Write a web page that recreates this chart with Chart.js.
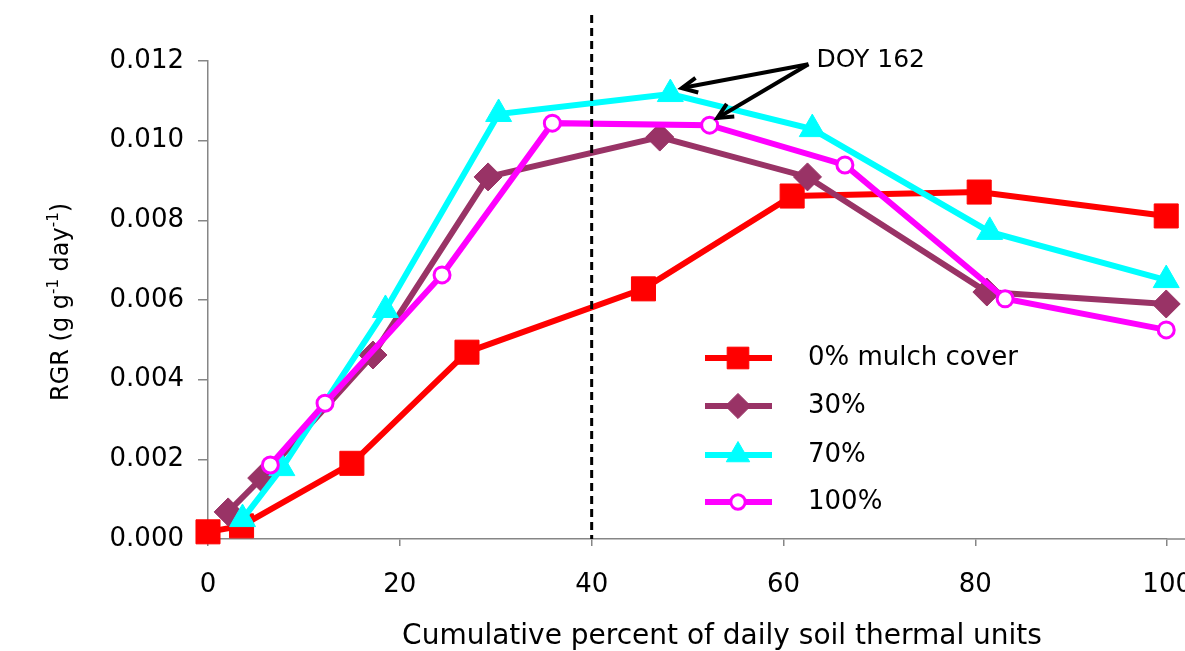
<!DOCTYPE html>
<html>
<head>
<meta charset="utf-8">
<script src="https://cdn.jsdelivr.net/npm/chart.js@4.4.0/dist/chart.umd.min.js"></script>
<style>
  html, body { margin: 0; padding: 0; background: #fff; overflow: hidden; }
  #wrap { position: absolute; left: 0; top: 0; width: 1216px; height: 651px; }
</style>
</head>
<body>
<div id="wrap"><canvas id="rgrChart"></canvas></div>
<script>
// ---- data ----
const seriesLabels = ['0% mulch cover', '30%', '70%', '100%'];

const mulch0x = [0, 3.5, 15.0, 27.0, 45.4, 60.9, 80.4, 99.9];
const mulch0y = [0.00018, 0.00033, 0.0019, 0.00469, 0.00628, 0.00861, 0.00871, 0.00811];

const mulch30x = [2.1, 5.6, 17.2, 29.2, 47.1, 62.5, 81.2, 99.9];
const mulch30y = [0.00068, 0.00153, 0.00462, 0.00909, 0.01009, 0.00909, 0.0062, 0.0059];

const mulch70x = [3.6, 7.7, 18.5, 30.3, 48.2, 63.0, 81.5, 99.9];
const mulch70y = [0.0005, 0.00178, 0.00575, 0.01067, 0.01117, 0.01029, 0.00771, 0.0065];

const mulch100x = [6.5, 12.2, 24.4, 35.9, 52.3, 66.4, 83.1, 99.9];
const mulch100y = [0.00186, 0.00341, 0.00663, 0.01044, 0.01039, 0.00939, 0.00603, 0.00525];

const xTicks = [0, 20, 40, 60, 80, 100];
const yTicks = [0, 0.002, 0.004, 0.006, 0.008, 0.010, 0.012];

const markerLine = 40;                 // dashed vertical line
const noteText = 'DOY 162';
const noteFrom = { x: 62.6, y: 0.01192 };
const noteTips = [{ x: 49.4, y: 0.01132 }, { x: 53.1, y: 0.01057 }];

const FONT = "'DejaVu Sans', Verdana, sans-serif";

function pts(xs, ys) {
    return xs.map((x, i) => ({ x: x, y: ys[i] }));
}

const styles = [
    { color: '#ff0000', point: 'rect', radius: 17, fill: '#ff0000', bw: 1 },
    { color: '#993366', point: 'rectRot', radius: 14, fill: '#993366', bw: 1 },
    { color: '#00ffff', point: 'triangle', radius: 15, fill: '#00ffff', bw: 1 },
    { color: '#ff00ff', point: 'circle', radius: 8, fill: '#ffffff', bw: 3 }
];
const allData = [pts(mulch0x, mulch0y), pts(mulch30x, mulch30y), pts(mulch70x, mulch70y), pts(mulch100x, mulch100y)];

const datasets = allData.map((d, i) => ({
    label: seriesLabels[i],
    data: d,
    borderColor: styles[i].color,
    backgroundColor: styles[i].color,
    borderWidth: 6,
    pointStyle: styles[i].point,
    pointRadius: styles[i].radius,
    pointHoverRadius: styles[i].radius,
    pointBackgroundColor: styles[i].fill,
    pointBorderColor: styles[i].color,
    pointBorderWidth: styles[i].bw,
    tension: 0,
    clip: false,
    order: 4 - i
}));

// axis titles, legend, dashed line and the annotation
const extras = {
    id: 'extras',
    afterDatasetsDraw(chart) {
        const { ctx, chartArea, scales: { x, y } } = chart;
        ctx.save();

        // x axis runs on to the edge
        ctx.strokeStyle = '#868686';
        ctx.lineWidth = 1.5;
        ctx.beginPath();
        ctx.moveTo(chartArea.right, chartArea.bottom);
        ctx.lineTo(chart.width, chartArea.bottom);
        ctx.stroke();

        // dashed line
        const lx = x.getPixelForValue(markerLine);
        ctx.strokeStyle = '#000';
        ctx.lineWidth = 3;
        ctx.setLineDash([8, 5]);
        ctx.beginPath();
        ctx.moveTo(lx, 15);
        ctx.lineTo(lx, chartArea.bottom);
        ctx.stroke();
        ctx.setLineDash([]);

        // annotation arrows
        const fx = x.getPixelForValue(noteFrom.x), fy = y.getPixelForValue(noteFrom.y);
        noteTips.forEach(t => {
            const tx = x.getPixelForValue(t.x), ty = y.getPixelForValue(t.y);
            const a = Math.atan2(ty - fy, tx - fx);
            ctx.lineWidth = 4;
            ctx.beginPath();
            ctx.moveTo(fx, fy);
            ctx.lineTo(tx, ty);
            ctx.stroke();
            ctx.beginPath();
            ctx.moveTo(tx - 17 * Math.cos(a - 0.45), ty - 17 * Math.sin(a - 0.45));
            ctx.lineTo(tx, ty);
            ctx.lineTo(tx - 17 * Math.cos(a + 0.45), ty - 17 * Math.sin(a + 0.45));
            ctx.stroke();
        });
        ctx.fillStyle = '#000';
        ctx.font = '25px ' + FONT;
        ctx.textAlign = 'left';
        ctx.textBaseline = 'middle';
        ctx.fillText(noteText, fx + 8, fy - 4);

        // legend
        const rows = [358, 406, 455, 502];
        rows.forEach((ry, i) => {
            const s = styles[i];
            ctx.strokeStyle = s.color;
            ctx.lineWidth = 6;
            ctx.beginPath();
            ctx.moveTo(705, ry);
            ctx.lineTo(772, ry);
            ctx.stroke();
            ctx.fillStyle = s.fill;
            ctx.strokeStyle = s.color;
            ctx.lineWidth = s.bw;
            Chart.helpers.drawPoint(ctx, { pointStyle: s.point, radius: s.radius * 0.9, rotation: 0, borderWidth: s.bw }, 738, ry);
            ctx.fillStyle = '#000';
            ctx.font = '26px ' + FONT;
            ctx.textBaseline = 'middle';
            ctx.fillText(seriesLabels[i], 808, ry);
        });

        // x title
        ctx.textAlign = 'center';
        ctx.font = '28px ' + FONT;
        ctx.fillText('Cumulative percent of daily soil thermal units', 722, 637);

        // y title with superscripts
        ctx.translate(62, 302);
        ctx.rotate(-Math.PI / 2);
        const parts = [['RGR (g g', 0], ['-1', 1], [' day', 0], ['-1', 1], [')', 0]];
        const big = '24px ' + FONT, small = '15px ' + FONT;
        let total = 0;
        parts.forEach(p => { ctx.font = p[1] ? small : big; total += ctx.measureText(p[0]).width; });
        let px = -total / 2;
        ctx.textAlign = 'left';
        ctx.textBaseline = 'middle';
        parts.forEach(p => {
            ctx.font = p[1] ? small : big;
            ctx.fillText(p[0], px, p[1] ? -8 : 0);
            px += ctx.measureText(p[0]).width;
        });
        ctx.restore();
    }
};

new Chart(document.getElementById('rgrChart'), {
    type: 'line',
    data: { datasets: datasets },
    options: {
        responsive: true,
        maintainAspectRatio: false,
        animation: false,
        layout: { padding: { top: 61, right: 25, bottom: 0, left: 0 } },
        plugins: { legend: { display: false }, tooltip: { enabled: false } },
        scales: {
            x: {
                type: 'linear',
                min: 0,
                max: 100,
                afterBuildTicks: (s) => { s.ticks = xTicks.map(v => ({ value: v })); },
                afterFit: (s) => { s.height = 112; },
                grid: { drawOnChartArea: false, tickLength: 7, color: '#868686', lineWidth: 1.5 },
                border: { color: '#868686', width: 1.5 },
                ticks: { color: '#000', font: { family: FONT, size: 26 }, padding: 24, maxRotation: 0 }
            },
            y: {
                min: 0,
                max: 0.012,
                afterBuildTicks: (s) => { s.ticks = yTicks.map(v => ({ value: v })); },
                afterFit: (s) => { s.width = 208; },
                grid: { drawOnChartArea: false, tickLength: 10, color: '#868686', lineWidth: 1.5 },
                border: { color: '#868686', width: 1.5 },
                ticks: {
                    color: '#000',
                    font: { family: FONT, size: 26 },
                    padding: 14,
                    callback: (v) => v.toFixed(3)
                }
            }
        }
    },
    plugins: [extras]
});
</script>
</body>
</html>
